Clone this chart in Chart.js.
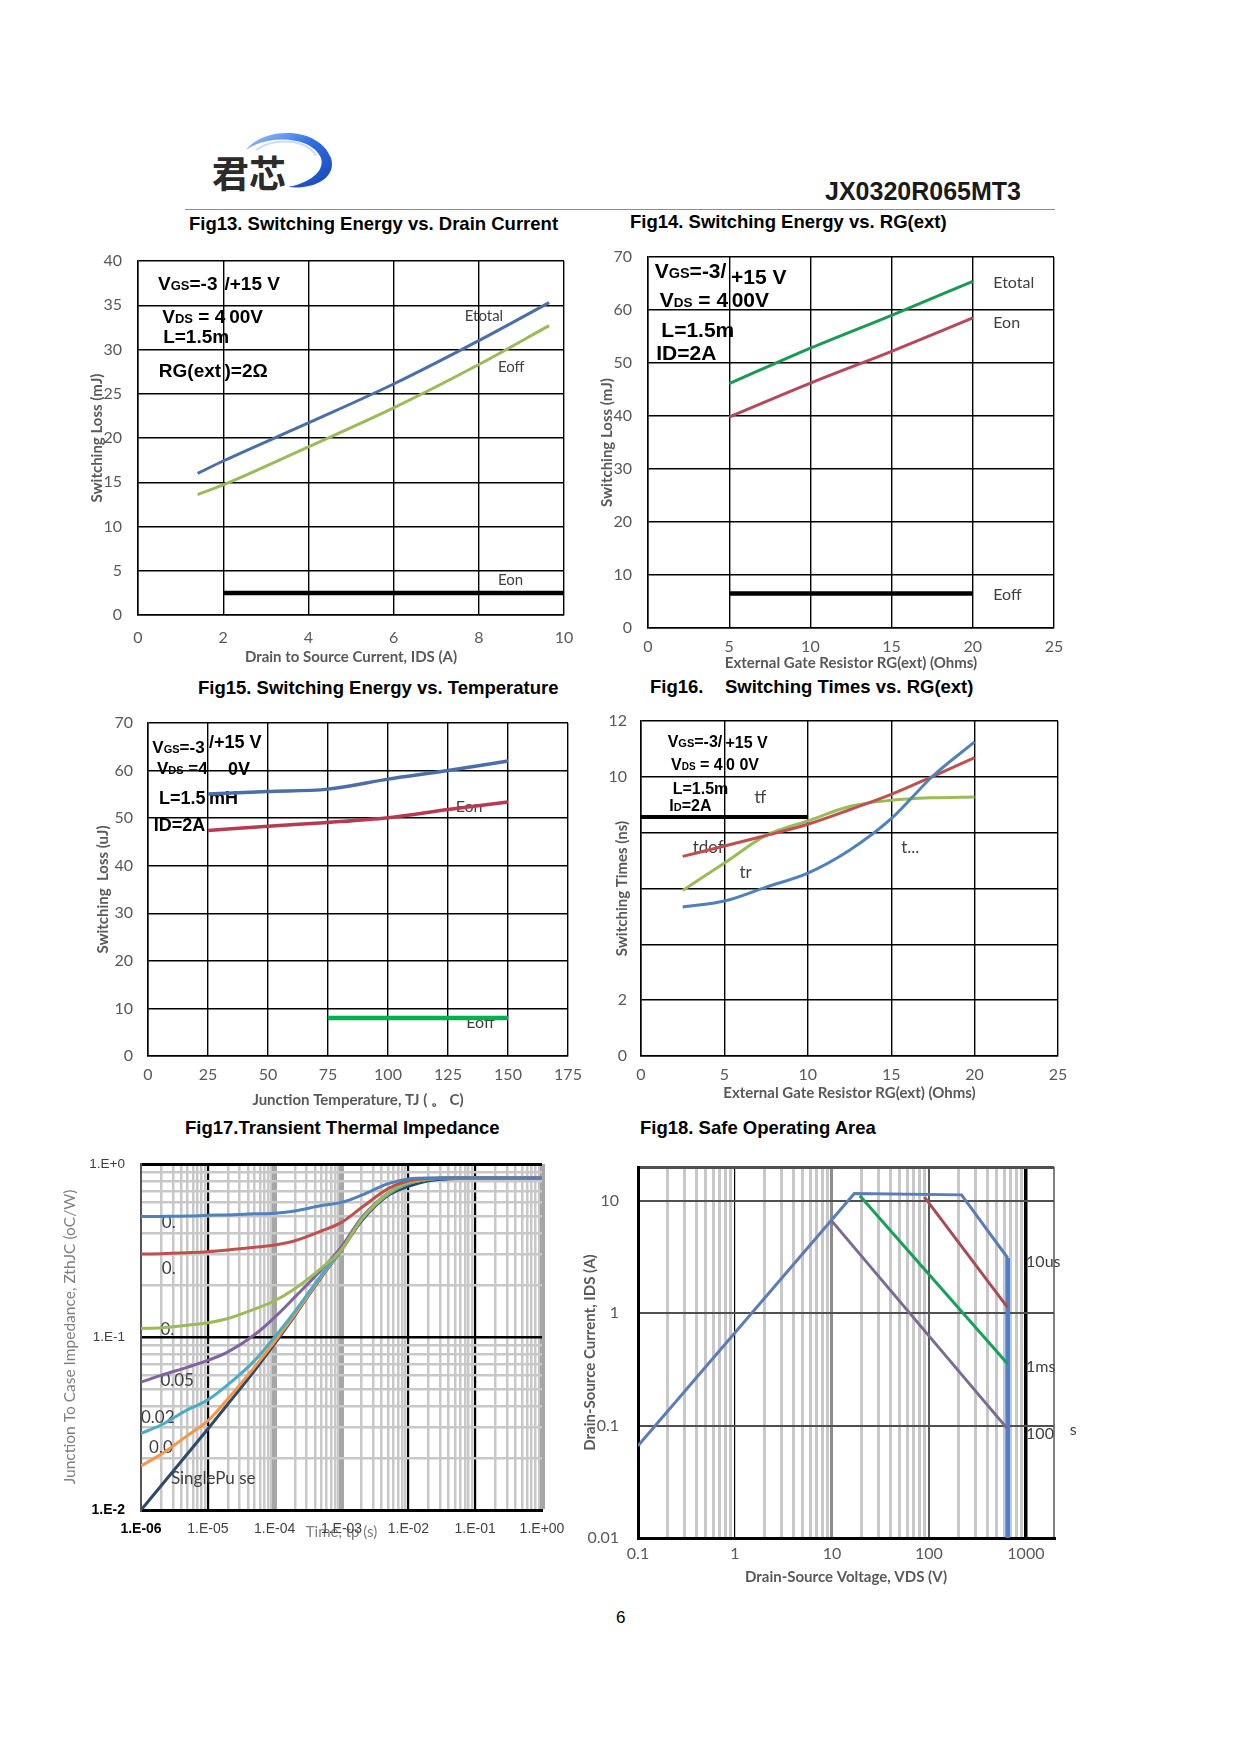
<!DOCTYPE html>
<html>
<head>
<meta charset="utf-8">
<script src="https://cdn.jsdelivr.net/npm/chart.js@4.4.1/dist/chart.umd.min.js"></script>
<style>
html,body{margin:0;padding:0;background:#fff;}
body{width:1241px;height:1754px;position:relative;overflow:hidden;}
canvas{position:absolute;}
.t{position:absolute;white-space:nowrap;font-family:'Liberation Sans',Arial,sans-serif;font-weight:bold;color:#000;}
.ft{font-size:18.5px;line-height:20px;height:20px;}
</style>
</head>
<body>
<svg style="position:absolute;left:200px;top:115px" width="150" height="95" viewBox="200 115 150 95">
  <defs>
    <linearGradient id="lg" x1="0" y1="0" x2="1" y2="1">
      <stop offset="0" stop-color="#a9c9ff"/>
      <stop offset="0.45" stop-color="#2f6fe0"/>
      <stop offset="1" stop-color="#1746b8"/>
    </linearGradient>
  </defs>
  <path d="M246,150 C262,127 318,125 331,158 C337,177 315,190 288,187 C309,183 325,172 321,158 C312,136 268,134 246,150 Z" fill="url(#lg)"/>
  <path d="M256,150 C274,137 307,139 316,156" stroke="#c7dcff" stroke-width="2" fill="none"/>
</svg>
<div class="t" style="left:212px;top:154px;font-family:'Noto Sans CJK SC',sans-serif;font-size:37px;line-height:37px;color:#2b2b2b;">君芯</div>
<div class="t" style="left:825px;top:178px;font-size:25px;line-height:26px;color:#1a1a1a;">JX0320R065MT3</div>
<div style="position:absolute;left:185px;top:209px;width:870px;height:1px;background:#8c8c8c;"></div>
<div class="t ft" style="left:189px;top:214px;">Fig13. Switching Energy vs. Drain Current</div>
<div class="t ft" style="left:630px;top:212px;">Fig14. Switching Energy vs. RG(ext)</div>
<div class="t ft" style="left:198px;top:678px;">Fig15. Switching Energy vs. Temperature</div>
<div class="t ft" style="left:650px;top:677px;">Fig16.</div>
<div class="t ft" style="left:725px;top:677px;">Switching Times vs. RG(ext)</div>
<div class="t ft" style="left:185px;top:1118px;">Fig17.Transient Thermal Impedance</div>
<div class="t ft" style="left:640px;top:1118px;">Fig18. Safe Operating Area</div>
<div class="t" style="left:616px;top:1608px;font-weight:normal;font-size:17px;line-height:20px;">6</div>

<canvas id="c13"></canvas>
<canvas id="c14"></canvas>
<canvas id="c15"></canvas>
<canvas id="c16"></canvas>
<canvas id="c17"></canvas>
<canvas id="c18"></canvas>

<script>
// ---------------- DATA ----------------
// Fig13 Switching energy vs drain current
const fig13Current = [1.4, 2, 4, 6, 8, 9.65];
const fig13Etotal = [16.0, 17.4, 21.7, 26.1, 31.0, 35.3];
const fig13Eoff = [13.6, 14.7, 19.0, 23.4, 28.3, 32.7];
const fig13EonCurrent = [2, 10];
const fig13Eon = [2.5, 2.5];
const fig13XTickLabels = ['0', '2', '4', '6', '8', '10'];
const fig13YTickLabels = ['0', '5', '10', '15', '20', '25', '30', '35', '40'];

// Fig14 Switching energy vs RG(ext)
const fig14Rg = [5, 10, 15, 20];
const fig14Etotal = [46.1, 52.8, 59.0, 65.4];
const fig14Eon = [39.8, 46.2, 52.2, 58.5];
const fig14EoffRg = [5, 20];
const fig14Eoff = [6.5, 6.5];
const fig14XTickLabels = ['0', '5', '10', '15', '20', '25'];
const fig14YTickLabels = ['0', '10', '20', '30', '40', '50', '60', '70'];

// Fig15 Switching energy vs temperature
const fig15Temp = [25, 50, 75, 100, 125, 150];
const fig15Etotal = [55.1, 55.6, 56.1, 58.2, 60.0, 62.0];
const fig15Eon = [47.4, 48.3, 49.1, 50.1, 51.8, 53.4];
const fig15EoffTemp = [75, 150];
const fig15Eoff = [8.0, 8.0];
const fig15XTickLabels = ['0', '25', '50', '75', '100', '125', '150', '175'];
const fig15YTickLabels = ['0', '10', '20', '30', '40', '50', '60', '70'];

// Fig16 Switching times vs RG(ext)
const fig16Rg = [2.5, 5, 7.5, 10, 12.5, 15, 17.5, 20];
const fig16Blue = [5.34, 5.55, 6.05, 6.55, 7.37, 8.5, 10.03, 11.25];
const fig16Red = [7.15, 7.52, 7.9, 8.3, 8.82, 9.37, 10.02, 10.69];
const fig16Green = [5.93, 6.91, 7.9, 8.42, 8.94, 9.16, 9.25, 9.28];
const fig16TfRg = [0, 10];
const fig16Tf = [8.56, 8.56];
const fig16XTickLabels = ['0', '5', '10', '15', '20', '25'];
const fig16YTickLabels = ['0', '2', '', '', '', '10', '12'];

// Fig17 Transient thermal impedance
const fig17Time = [1e-6, 2e-6, 5e-6, 1e-5, 2e-5, 5e-5, 1e-4, 2e-4, 5e-4, 1e-3, 2e-3, 5e-3, 1e-2, 2e-2, 5e-2, 1e-1, 1];
const fig17D05 = [0.497, 0.498, 0.500, 0.505, 0.508, 0.515, 0.520, 0.535, 0.575, 0.600, 0.660, 0.770, 0.820, 0.830, 0.830, 0.830, 0.830];
const fig17D02 = [0.302, 0.303, 0.307, 0.311, 0.318, 0.330, 0.340, 0.360, 0.410, 0.460, 0.560, 0.720, 0.800, 0.825, 0.830, 0.830, 0.830];
const fig17D01 = [0.112, 0.113, 0.117, 0.121, 0.128, 0.145, 0.162, 0.190, 0.250, 0.320, 0.480, 0.680, 0.780, 0.820, 0.830, 0.830, 0.830];
const fig17D005 = [0.0548, 0.060, 0.067, 0.0732, 0.082, 0.103, 0.130, 0.170, 0.245, 0.333, 0.490, 0.680, 0.780, 0.820, 0.830, 0.830, 0.830];
const fig17D002 = [0.0277, 0.031, 0.038, 0.0433, 0.053, 0.073, 0.100, 0.140, 0.228, 0.322, 0.480, 0.670, 0.770, 0.815, 0.830, 0.830, 0.830];
const fig17D001 = [0.018, 0.021, 0.027, 0.0328, 0.044, 0.067, 0.094, 0.135, 0.224, 0.320, 0.480, 0.670, 0.770, 0.815, 0.830, 0.830, 0.830];
const fig17Single = [0.0100, 0.0138, 0.0212, 0.0294, 0.041, 0.064, 0.0915, 0.133, 0.222, 0.318, 0.470, 0.660, 0.742, 0.800, 0.825, 0.830, 0.830];
const fig17XTickLabels = ['1.E-06', '1.E-05', '1.E-04', '1.E-03', '1.E-02', '1.E-01', '1.E+00'];
const fig17YTickLabels = ['1.E-2', '1.E-1', '1.E+0'];

// Fig18 Safe operating area
const fig18OutlineV = [0.1, 17, 217, 650];
const fig18OutlineI = [0.066, 11.6, 11.3, 3.1];
const fig18LimitV = [650, 650];
const fig18LimitI = [3.1, 0.01];
const fig18RedV = [90, 650];
const fig18RedI = [10.8, 1.12];
const fig18GreenV = [19.4, 650];
const fig18GreenI = [11.1, 0.354];
const fig18PurpleV = [10, 650];
const fig18PurpleI = [6.6, 0.093];
const fig18XTickLabels = ['0.1', '1', '10', '100', '1000'];
const fig18YTickLabels = ['0.01', '0.1', '1', '10'];

// ---------------- HELPERS ----------------
Chart.defaults.font.family = 'Lato';
Chart.defaults.color = '#595959';

function pts(xs, ys) { return xs.map((x, i) => ({ x: x, y: ys[i] })); }
function merge(a, b) {
  for (const k in b) {
    const v = b[k];
    if (v && typeof v === 'object' && !Array.isArray(v) && a[k] && typeof a[k] === 'object' && !Array.isArray(a[k])) merge(a[k], v);
    else a[k] = v;
  }
  return a;
}
function isDecade(v) { const l = Math.log10(v); return Math.abs(l - Math.round(l)) < 1e-6; }
function near(v, t) { return Math.abs(Math.log10(v) - Math.log10(t)) < 1e-6; }
function logTicks(e0, e1, extra) {
  const t = [];
  for (let e = e0; e < e1; e++) for (let m = 1; m < 10; m++) t.push({ value: +(m * Math.pow(10, e)).toPrecision(6) });
  t.push({ value: Math.pow(10, e1) });
  if (extra) t.push({ value: extra });
  return t;
}
function drawNotes(chart, items) {
  const ctx = chart.ctx, xs = chart.scales.x, ys = chart.scales.y;
  ctx.save();
  ctx.textBaseline = 'alphabetic';
  ctx.textAlign = 'left';
  for (const it of items) {
    let px = xs.getPixelForValue(it.x);
    const py = ys.getPixelForValue(it.y) + it.size * 0.36;
    for (const p of it.parts) {
      const sz = p[1] || it.size;
      ctx.font = (it.weight || 'normal') + ' ' + sz + 'px ' + it.family;
      ctx.fillStyle = it.color;
      ctx.fillText(p[0], px, py);
      px += ctx.measureText(p[0]).width;
    }
  }
  ctx.restore();
}
function B(x, y, size, parts) { return { x, y, size, parts, weight: 'bold', family: "'Liberation Sans', Arial, sans-serif", color: '#000' }; }
function L(x, y, text, size) { return { x, y, size: size || 16, parts: [[text]], weight: 'normal', family: 'Lato', color: '#404040' }; }

function ds(data, color, width, smooth) {
  return { data, borderColor: color, borderWidth: width, pointRadius: 0, fill: false, showLine: true,
    cubicInterpolationMode: smooth ? 'monotone' : 'default', tension: 0, borderCapStyle: 'butt' };
}

function build(id, geo, spec) {
  const [bl, bt, bw, bh] = geo.box, [aL, aT, aR, aB] = geo.area;
  const cv = document.getElementById(id);
  cv.width = bw; cv.height = bh;
  cv.style.left = bl + 'px'; cv.style.top = bt + 'px';
  cv.style.width = bw + 'px'; cv.style.height = bh + 'px';
  const yW = aL - bl, xH = bt + bh - aB;
  const xtf = spec.xTitleFont || { size: 15, weight: 'bold' };
  const ytf = spec.yTitleFont || { size: 15, weight: 'bold' };
  const xScale = merge({
    type: 'linear', position: 'bottom',
    ticks: { padding: geo.xTickPad, font: { size: 16 }, color: '#595959', autoSkip: false, maxRotation: 0, minRotation: 0 },
    grid: { color: '#000', lineWidth: 1.4, drawTicks: false },
    border: { display: true, color: '#000', width: 1.5 },
    title: { display: true, text: spec.xTitle, font: xtf, color: spec.xTitleColor || '#595959',
      padding: { top: 0, bottom: bt + bh - geo.xTitleY - xtf.size * 0.6 } },
    afterFit: function (s) { s.height = xH; s.paddingLeft = 0; s.paddingRight = 0; s.paddingTop = 0; s.paddingBottom = 0; }
  }, spec.x);
  const yScale = merge({
    type: 'linear', position: 'left',
    ticks: { padding: geo.yTickPad, font: { size: 16 }, color: '#595959', autoSkip: false },
    grid: { color: '#000', lineWidth: 1.4, drawTicks: false },
    border: { display: true, color: '#000', width: 1.5 },
    title: { display: true, text: spec.yTitle, font: ytf, color: spec.yTitleColor || '#595959',
      padding: { top: geo.yTitleX - bl - ytf.size * 0.6, bottom: 0 } },
    afterFit: function (s) { s.width = yW; s.paddingLeft = 0; s.paddingRight = 0; s.paddingTop = 0; s.paddingBottom = 0; }
  }, spec.y);
  return new Chart(cv, {
    type: 'line',
    data: { datasets: spec.datasets },
    options: {
      responsive: false, animation: false, events: [],
      layout: { padding: { left: 0, top: aT - bt, right: bl + bw - aR, bottom: 0 } },
      plugins: { legend: { display: false }, tooltip: { enabled: false } },
      scales: { x: xScale, y: yScale }
    },
    plugins: [{ id: 'notes', beforeDatasetsDraw: (chart) => drawNotes(chart, spec.notes || []) }]
  });
}

// ---------------- Fig13 ----------------
build('c13', { box: [60, 240, 530, 430], area: [138, 261, 564, 615], xTickPad: 13, yTickPad: 16, xTitleY: 657, yTitleX: 97 }, {
  xTitle: 'Drain to Source Current, IDS (A)', yTitle: 'Switching Loss (mJ)',
  x: { min: 0, max: 10, ticks: { stepSize: 2, callback: (v, i) => fig13XTickLabels[i] } },
  y: { min: 0, max: 40, ticks: { stepSize: 5, callback: (v, i) => fig13YTickLabels[i] } },
  datasets: [
    ds(pts(fig13Current, fig13Etotal), '#4a6fa8', 3, true),
    ds(pts(fig13Current, fig13Eoff), '#9bbb59', 3, true),
    ds(pts(fig13EonCurrent, fig13Eon), '#000', 4.5, false)
  ],
  notes: [
    B(0.47, 37.5, 19, [['V'], ['GS', 13], ['=-3']]),
    B(2.03, 37.5, 19, [['/+15 V']]),
    B(0.57, 33.8, 19, [['V'], ['DS', 13], [' = 4']]),
    B(2.14, 33.8, 19, [['00V']]),
    B(0.59, 31.5, 19, [['L=1.5m']]),
    B(0.49, 27.7, 19, [['RG(ext']]),
    B(2.03, 27.7, 19, [[')=2Ω']]),
    L(7.67, 33.8, 'Etotal', 15),
    L(8.45, 28.1, 'Eoff', 15),
    L(8.45, 3.96, 'Eon', 15)
  ]
});

// ---------------- Fig14 ----------------
build('c14', { box: [570, 235, 500, 440], area: [648, 257, 1054, 628], xTickPad: 9, yTickPad: 16, xTitleY: 663, yTitleX: 607 }, {
  xTitle: 'External Gate Resistor RG(ext) (Ohms)', yTitle: 'Switching Loss (mJ)',
  x: { min: 0, max: 25, ticks: { stepSize: 5, callback: (v, i) => fig14XTickLabels[i] } },
  y: { min: 0, max: 70, ticks: { stepSize: 10, callback: (v, i) => fig14YTickLabels[i] } },
  datasets: [
    ds(pts(fig14Rg, fig14Etotal), '#1a9a55', 3, true),
    ds(pts(fig14Rg, fig14Eon), '#b5485d', 3, true),
    ds(pts(fig14EoffRg, fig14Eoff), '#000', 4.5, false)
  ],
  notes: [
    B(0.41, 67.5, 21, [['V'], ['GS', 14.5], ['=-3/']]),
    B(5.11, 66.35, 21, [['+15 V']]),
    B(0.72, 62.07, 21, [['V'], ['DS', 13.5], [' = 4']]),
    B(5.15, 62.07, 21, [['00V']]),
    B(0.82, 56.3, 21, [['L=1.5m']]),
    B(0.51, 52.0, 21, [['ID=2A']]),
    L(21.26, 65.2, 'Etotal', 16),
    L(21.26, 57.6, 'Eon', 16),
    L(21.26, 6.4, 'Eoff', 16)
  ]
});

// ---------------- Fig15 ----------------
build('c15', { box: [60, 705, 530, 420], area: [148, 723, 568, 1056], xTickPad: 9, yTickPad: 15, xTitleY: 1100, yTitleX: 103 }, {
  xTitle: 'Junction Temperature, TJ ( 。 C)', yTitle: 'Switching  Loss (uJ)',
  x: { min: 0, max: 175, ticks: { stepSize: 25, callback: (v, i) => fig15XTickLabels[i] } },
  y: { min: 0, max: 70, ticks: { stepSize: 10, callback: (v, i) => fig15YTickLabels[i] } },
  datasets: [
    ds(pts(fig15Temp, fig15Etotal), '#4b6ea9', 3.5, true),
    ds(pts(fig15Temp, fig15Eon), '#b53a52', 3.5, true),
    ds(pts(fig15EoffTemp, fig15Eoff), '#00b050', 4.5, false)
  ],
  notes: [
    B(1.8, 64.9, 17, [['V'], ['GS', 11], ['=-3']]),
    B(25.4, 66.1, 18, [['/+15 V']]),
    B(3.75, 60.5, 17, [['V'], ['DS', 11], [' =4']]),
    B(33.3, 60.5, 18, [['0V']]),
    B(4.6, 54.4, 18, [['L=1.5']]),
    B(25.4, 54.4, 18, [['mH']]),
    B(2.4, 48.6, 18, [['ID=2A']]),
    L(128.2, 52.45, 'Eon', 16),
    L(132.6, 7.2, 'Eoff', 16)
  ]
});

// ---------------- Fig16 ----------------
build('c16', { box: [570, 705, 500, 420], area: [641, 721, 1058, 1056], xTickPad: 9, yTickPad: 14, xTitleY: 1093, yTitleX: 622 }, {
  xTitle: 'External Gate Resistor RG(ext) (Ohms)', yTitle: 'Switching Times (ns)',
  x: { min: 0, max: 25, ticks: { stepSize: 5, callback: (v, i) => fig16XTickLabels[i] } },
  y: { min: 0, max: 12, ticks: { stepSize: 2, callback: (v, i) => fig16YTickLabels[i] } },
  datasets: [
    ds(pts(fig16Rg, fig16Blue), '#4f81bd', 3, true),
    ds(pts(fig16Rg, fig16Red), '#c0504d', 3, true),
    ds(pts(fig16Rg, fig16Green), '#9bbb59', 3, true),
    ds(pts(fig16TfRg, fig16Tf), '#000', 4, false)
  ],
  notes: [
    B(1.6, 11.28, 16, [['V'], ['GS', 11], ['=-3/']]),
    B(5.06, 11.25, 16, [['+15 V']]),
    B(1.8, 10.45, 16, [['V'], ['DS', 10], [' = 4']]),
    B(5.1, 10.45, 16, [['0 0V']]),
    B(1.9, 9.58, 16, [['L=1.5m']]),
    B(1.7, 8.98, 16, [['I'], ['D', 11], ['=2A']]),
    L(6.8, 9.28, 'tf', 17),
    L(3.1, 7.49, 'tdof', 17),
    L(5.9, 6.59, 'tr', 17),
    L(15.6, 7.49, 't...', 17)
  ]
});

// ---------------- Fig17 ----------------
function g17x(v) {
  if (near(v, 1e-5) || near(v, 1e-2) || near(v, 1e-1)) return ['#000', 2.2];
  if (near(v, 1e-4) || near(v, 1e-3) || near(v, 1)) return ['#a6a6a6', 5];
  if (near(v, 1e-6)) return ['#555', 2];
  return ['#c8c8c8', 2.5];
}
function g17y(v) {
  if (near(v, 1)) return ['#000', 3];
  if (near(v, 0.1)) return ['#000', 2.5];
  if (near(v, 0.01)) return ['#000', 3];
  return ['#c8c8c8', 2.5];
}
build('c17', { box: [40, 1145, 545, 420], area: [141, 1164, 542, 1510], xTickPad: 11, yTickPad: 16, xTitleY: 1532, yTitleX: 70 }, {
  xTitle: 'Time, tp (s)', yTitle: 'Junction To Case Impedance, ZthJC (oC/W)',
  xTitleFont: { size: 15, weight: 'normal' }, yTitleFont: { size: 15.5, weight: 'normal' },
  xTitleColor: '#7f7f7f', yTitleColor: '#7f7f7f',
  x: { type: 'logarithmic', min: 1e-6, max: 1,
    afterBuildTicks: (s) => { s.ticks = logTicks(-6, 0); },
    ticks: { font: (c) => ({ size: 14, family: "'Liberation Sans', Arial", weight: c.index === 0 ? 'bold' : 'normal' }),
      color: (c) => c.index === 0 ? '#000' : '#404040',
      callback: (v) => isDecade(v) ? fig17XTickLabels[Math.round(Math.log10(v)) + 6] : '' },
    grid: { color: (c) => g17x(c.tick.value)[0], lineWidth: (c) => g17x(c.tick.value)[1] },
    border: { color: '#000', width: 3 } },
  y: { type: 'logarithmic', min: 0.01, max: 1,
    afterBuildTicks: (s) => { s.ticks = logTicks(-2, 0); },
    ticks: { font: (c) => ({ size: c.index === 0 ? 14 : 13.5, family: "'Liberation Sans', Arial", weight: c.index === 0 ? 'bold' : 'normal' }),
      color: (c) => c.index === 0 ? '#000' : '#404040',
      callback: (v) => isDecade(v) ? fig17YTickLabels[Math.round(Math.log10(v)) + 2] : '' },
    grid: { z: -1, color: (c) => g17y(c.tick.value)[0], lineWidth: (c) => g17y(c.tick.value)[1] },
    border: { color: '#555', width: 2 } },
  datasets: [
    ds(pts(fig17Time, fig17D05), '#4f81bd', 3, true),
    ds(pts(fig17Time, fig17D02), '#c0504d', 3, true),
    ds(pts(fig17Time, fig17D01), '#9bbb59', 3, true),
    ds(pts(fig17Time, fig17D005), '#8064a2', 3, true),
    ds(pts(fig17Time, fig17D002), '#4bacc6', 3, true),
    ds(pts(fig17Time, fig17D001), '#f79646', 3, true),
    ds(pts(fig17Time, fig17Single), '#2d4a6b', 3, true)
  ],
  notes: [
    L(2.05e-6, 0.462, '0.', 17),
    L(2.05e-6, 0.25, '0.', 17),
    L(1.95e-6, 0.111, '0.', 17),
    L(1.95e-6, 0.0564, '0.05', 17),
    L(1.0e-6, 0.0345, '0.02', 17),
    L(1.32e-6, 0.0231, '0.0', 17),
    L(2.8e-6, 0.0153, 'SinglePu se', 17)
  ]
});

// ---------------- Fig18 ----------------
function g18x(v) {
  if (near(v, 0.1)) return ['#000', 3];
  if (near(v, 1)) return ['#000', 1.2];
  if (near(v, 10)) return ['#8c8c8c', 3];
  if (near(v, 100)) return ['#595959', 2];
  if (near(v, 1000)) return ['#000', 3.5];
  if (v > 1000) return ['#7f7f7f', 2];
  return ['#c8c8c8', 3];
}
function g18y(v) {
  if (isDecade(v)) return ['#505050', 2];
  if (v > 10) return ['#505050', 3];
  return ['rgba(0,0,0,0)', 0];
}
build('c18', { box: [560, 1145, 540, 450], area: [638, 1167, 1054, 1538], xTickPad: 6, yTickPad: 19, xTitleY: 1577, yTitleX: 590 }, {
  xTitle: 'Drain-Source Voltage, VDS (V)', yTitle: 'Drain-Source Current, IDS (A)',
  x: { type: 'logarithmic', min: 0.1, max: 1950,
    afterBuildTicks: (s) => { s.ticks = logTicks(-1, 3, 1950); },
    ticks: { callback: (v) => isDecade(v) ? fig18XTickLabels[Math.round(Math.log10(v)) + 1] : '' },
    grid: { color: (c) => g18x(c.tick.value)[0], lineWidth: (c) => g18x(c.tick.value)[1] },
    border: { color: '#000', width: 3 } },
  y: { type: 'logarithmic', min: 0.01, max: 20,
    afterBuildTicks: (s) => { s.ticks = logTicks(-2, 1, 20); },
    ticks: { callback: (v) => isDecade(v) ? fig18YTickLabels[Math.round(Math.log10(v)) + 2] : '' },
    grid: { color: (c) => g18y(c.tick.value)[0], lineWidth: (c) => g18y(c.tick.value)[1] },
    border: { color: '#000', width: 3 } },
  datasets: [
    ds(pts(fig18PurpleV, fig18PurpleI), '#7a6a95', 3, false),
    ds(pts(fig18GreenV, fig18GreenI), '#16a05a', 3, false),
    ds(pts(fig18RedV, fig18RedI), '#a94a55', 3, false),
    ds(pts(fig18OutlineV, fig18OutlineI), '#5b7db5', 3, false),
    ds(pts(fig18LimitV, fig18LimitI), '#4d7fd0', 4.5, false)
  ],
  notes: [
    L(1005, 2.93, '10us', 16),
    L(1005, 0.336, '1ms', 16),
    L(1005, 0.085, '100', 16),
    L(2840, 0.0937, 's', 16)
  ]
});
</script>
</body>
</html>
